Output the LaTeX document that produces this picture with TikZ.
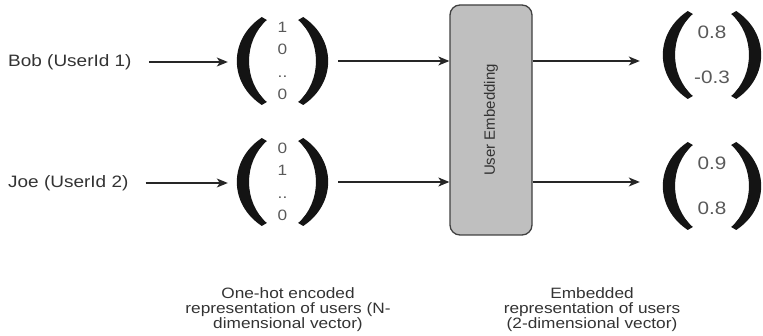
\documentclass[tikz,border=0pt]{standalone}
\usepackage{fontspec}
\setmainfont{Liberation Sans}[FakeStretch=1.15]
\newfontfamily\boxfont{Liberation Sans}
\usetikzlibrary{arrows.meta,positioning}

\tikzset{
  arr/.style={-{Stealth[length=11pt,width=9pt,inset=3pt]},line width=1.2pt,draw=black!85},
  lbl/.style={inner sep=0pt,text=black!80,font=\fontsize{16.5}{19}\selectfont},
  onehot/.style={minimum width=91pt,minimum height=88pt,inner sep=0pt,align=center,text=black!65,font=\fontsize{15}{22.5}\selectfont},
  embvec/.style={minimum width=98pt,minimum height=90pt,inner sep=0pt,align=center,text=black!65,font=\fontsize{18}{45.5}\selectfont},
  caption/.style={align=center,inner sep=0pt,text=black!80,font=\fontsize{15}{15}\selectfont},
  paren/.pic={\fill[black!92] (25,-44) .. controls (-8.3,-22) and (-8.3,22) .. (25,44) -- (30,41) .. controls (6.3,20) and (6.3,-20) .. (30,-41) -- cycle;}
}

\begin{document}
\begin{tikzpicture}[x=1pt,y=-1pt]
\useasboundingbox (0,0) rectangle (763,336);
\node[lbl,anchor=west] (bob) at (8,62) {Bob (UserId 1)};
\node[lbl,anchor=west] (joe) at (8,183) {Joe (UserId 2)};
\node[onehot] (in1) at (282.5,61) {1\\0\\..\\0};
\node[onehot] (in2) at (282.5,182) {0\\1\\..\\0};
\node[draw=black!75,fill=black!25,line width=1.3pt,rounded corners=10pt,minimum width=82pt,minimum height=230pt] (emb) at (491,120) {};
\node[rotate=90,text=black!80,font=\boxfont\fontsize{15}{16}\selectfont] (embtxt) at (emb) {User Embedding};
\node[embvec] (out1) at (712,55) {0.8\\-0.3};
\node[embvec] (out2) at (712,186) {0.9\\0.8};
\foreach \v in {in1,in2,out1,out2}{
  \pic at (\v.west) {paren};
  \pic[xscale=-1] at (\v.east) {paren};
}
\draw[arr,shorten <=17pt,shorten >=9pt] (bob.east) -- (bob.east -| in1.west);
\draw[arr,shorten <=17pt,shorten >=9pt] (joe.east) -- (joe.east -| in2.west);
\draw[arr,shorten <=10pt] (in1.east) -- (in1.east -| emb.west);
\draw[arr,shorten <=10pt] (in2.east) -- (in2.east -| emb.west);
\draw[arr,shorten >=23pt] (emb.east |- in1.east) -- (out1.west |- in1.east);
\draw[arr,shorten >=23pt] (emb.east |- in2.east) -- (out2.west |- in2.east);
\node[caption] (cap1) at (288,310) {One-hot encoded\\representation of users (N-\\dimensional vector)};
\node[caption] (cap2) at (592,310) {Embedded\\representation of users\\(2-dimensional vector)};
\end{tikzpicture}
\end{document}
